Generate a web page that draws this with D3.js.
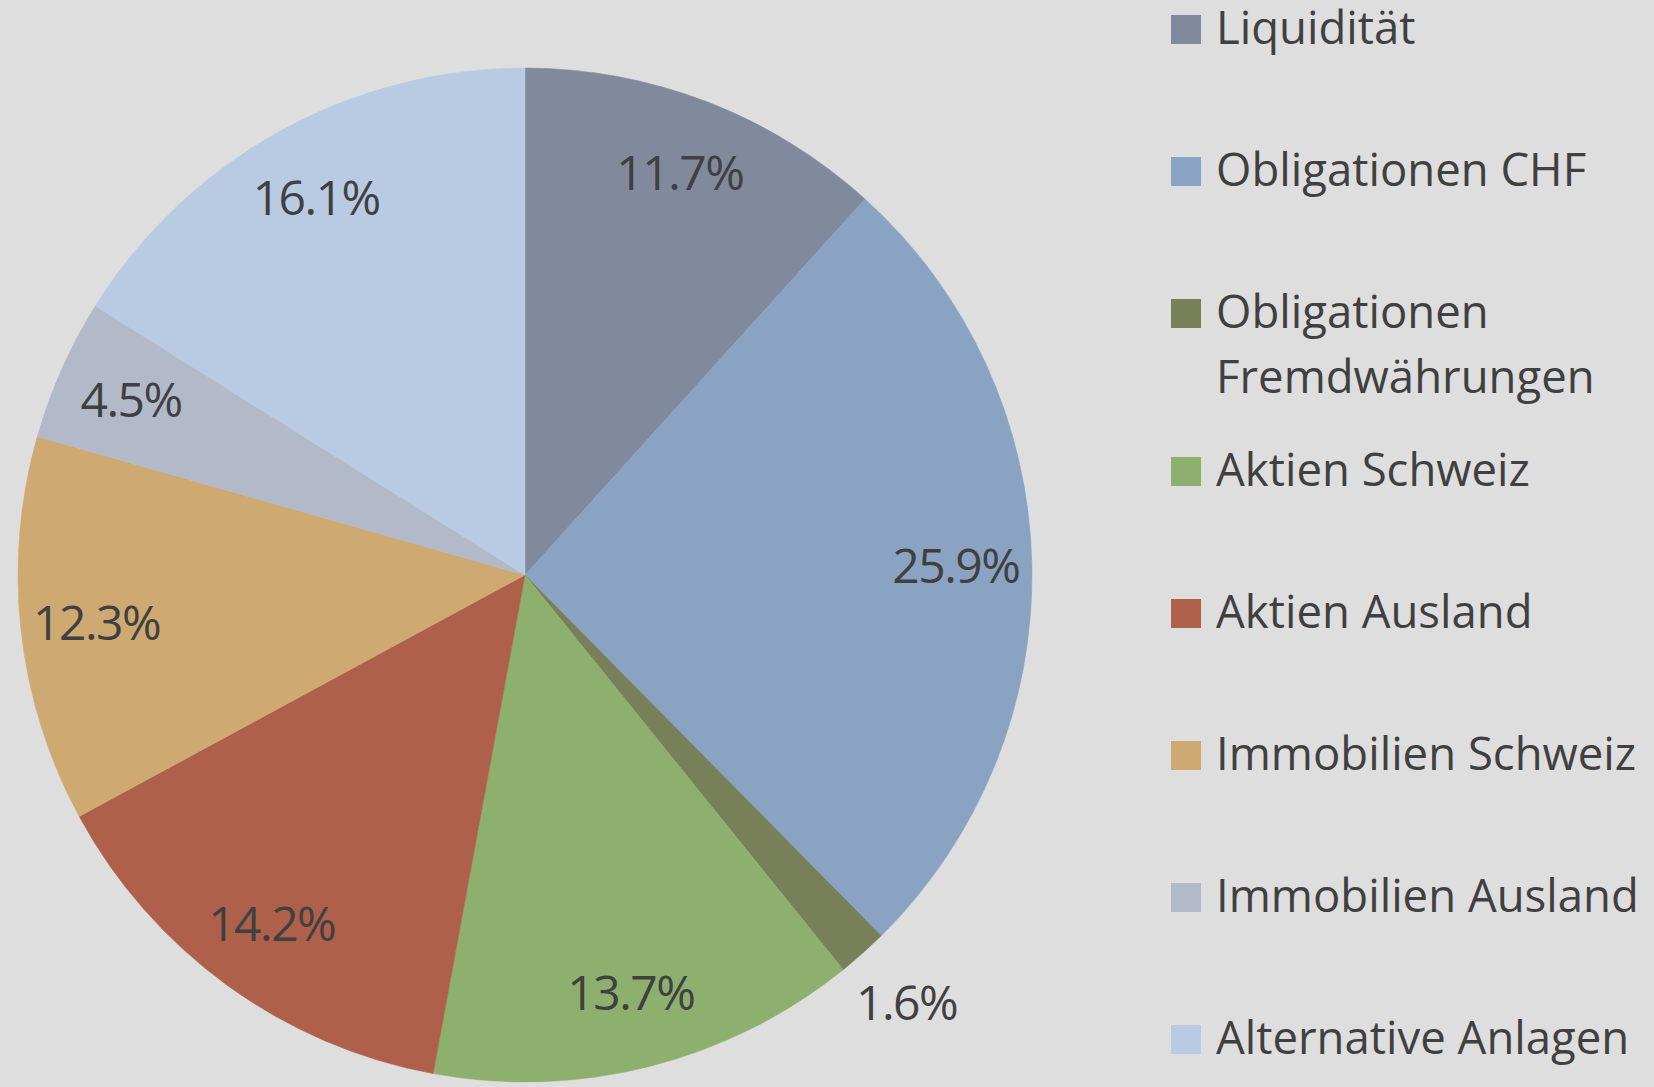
<!DOCTYPE html>
<html>
<head>
<meta charset="utf-8">
<script src="https://cdn.jsdelivr.net/npm/d3@7"></script>
<style>
  body { margin: 0; background: #dedede; }
  svg { display: block; }
</style>
</head>
<body>
<div id="chart"></div>
<script>
// categories and values (percent)
let categories = ["Liquidität", "Obligationen CHF", "Obligationen Fremdwährungen", "Aktien Schweiz",
  "Aktien Ausland", "Immobilien Schweiz", "Immobilien Ausland", "Alternative Anlagen"];
let values = [11.7, 25.9, 1.6, 13.7, 14.2, 12.3, 4.5, 16.1];
let colors = ["#808a9c", "#8aa3c2", "#78805a", "#8db06e", "#ae604a", "#cfa972", "#b2bac9", "#b9cbe3"];
// legend lines (wrapped as in the picture)
let legendLines = [["Liquidität"], ["Obligationen CHF"], ["Obligationen", "Fremdwährungen"], ["Aktien Schweiz"],
  ["Aktien Ausland"], ["Immobilien Schweiz"], ["Immobilien Ausland"], ["Alternative Anlagen"]];

let svgWidth = 1654;
let svgHeight = 1087;
let cx = 525, cy = 575, radius = 507;
let font = "'Open Sans', sans-serif";
let textColor = "#404040";

let svg = d3.select("#chart").append("svg")
  .attr("width", svgWidth)
  .attr("height", svgHeight);

svg.append("rect").attr("width", svgWidth).attr("height", svgHeight).attr("fill", "#dedede");

let data = categories.map(function(c, i) { return { name: c, value: values[i], color: colors[i] }; });

let pie = d3.pie().sort(null).value(function(d) { return d.value; });
let arc = d3.arc().innerRadius(0).outerRadius(radius);
let labelArc = d3.arc().innerRadius(radius * 0.85).outerRadius(radius * 0.85);
let outerLabelArc = d3.arc().innerRadius(radius * 1.13).outerRadius(radius * 1.13);

let pieGroup = svg.append("g").attr("transform", "translate(" + cx + "," + cy + ")");
let arcs = pie(data);

pieGroup.selectAll("path")
  .data(arcs)
  .enter()
  .append("path")
  .attr("d", arc)
  .attr("fill", function(d) { return d.data.color; })
  .attr("stroke", function(d) { return d.data.color; })
  .attr("stroke-width", 0.5);

// data labels, small slices go outside
pieGroup.selectAll("text")
  .data(arcs)
  .enter()
  .append("text")
  .text(function(d) { return d.data.value.toFixed(1) + "%"; })
  .attr("transform", function(d) {
    let p = d.data.value < 3 ? outerLabelArc.centroid(d) : labelArc.centroid(d);
    return "translate(" + p[0] + "," + p[1] + ")";
  })
  .attr("text-anchor", "middle")
  .attr("dy", "0.36em")
  .attr("fill", textColor)
  .style("font-family", font)
  .style("font-size", "48px")
  .style("letter-spacing", "-1.5px");

// legend
let legendY = [];
let y = 29.5;
legendLines.forEach(function(lines, i) {
  legendY.push(y);
  y += 142 + (lines.length > 1 ? 16 : 0);
});

let legend = svg.append("g").attr("transform", "translate(1171,0)");
let items = legend.selectAll("g")
  .data(data)
  .enter()
  .append("g")
  .attr("transform", function(d, i) { return "translate(0," + legendY[i] + ")"; });

items.append("rect")
  .attr("x", 0)
  .attr("y", -14.5)
  .attr("width", 30)
  .attr("height", 29)
  .attr("fill", function(d) { return d.color; });

items.append("text")
  .attr("x", 45)
  .attr("y", 14.5)
  .attr("fill", textColor)
  .style("font-family", font)
  .style("font-size", "45.5px")
  .selectAll("tspan")
  .data(function(d, i) { return legendLines[i]; })
  .enter()
  .append("tspan")
  .attr("x", 45)
  .attr("dy", function(d, j) { return j === 0 ? 0 : 65; })
  .text(function(d) { return d; });
</script>
</body>
</html>
